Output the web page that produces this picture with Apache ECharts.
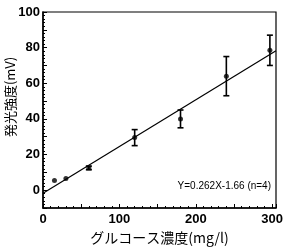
<!DOCTYPE html>
<html><head><meta charset="utf-8">
<script src="https://cdn.jsdelivr.net/npm/echarts@6/dist/echarts.min.js"></script>
<style>html,body{margin:0;padding:0;background:#fff}#c{width:285px;height:247px}</style>
</head><body><div id="c"></div>
<script>
// data
const xValues = [15, 30, 60, 120, 180, 240, 297];
const yValues = [5.5, 6.5, 12.5, 29.5, 40, 64, 78.5];
const yErrors = [0, 0, 1, 4.5, 5, 11, 8.5];
const markerShapes = ['circle', 'circle', 'rect', 'circle', 'circle', 'circle', 'circle'];
const fitSlope = 0.262;
const fitIntercept = -1.66;
const fitRange = [0, 305];
const xTickLabels = [0, 100, 200, 300];
const yTickLabels = [0, 20, 40, 60, 80, 100];
const xName = 'グルコース濃度(mg/l)';
const yName = '発光強度(mV)';
const fitLabel = 'Y=0.262X-1.66 (n=4)';

const pts = xValues.map((x, i) => ({value: [x, yValues[i]], symbol: markerShapes[i], symbolSize: 5}));
const errData = xValues.map((x, i) => [x, yValues[i] - yErrors[i], yValues[i] + yErrors[i]]).filter((d, i) => yErrors[i] > 0);
const fitData = fitRange.map(x => [x, fitSlope * x + fitIntercept]);

const lblFont = {color: '#000', fontFamily: 'Liberation Sans, Arial, sans-serif', fontSize: 13, fontWeight: 'bold'};
const chart = echarts.init(document.getElementById('c'), null, {renderer: 'canvas'});
chart.setOption({
  animation: false,
  backgroundColor: '#fff',
  grid: {left: 43, right: 9, top: 12, bottom: 39, containLabel: false, outerBoundsMode: 'none',
         show: true, borderColor: '#000', borderWidth: 1.2},
  xAxis: {
    type: 'value', min: 0, max: 305, interval: 50,
    name: xName, nameLocation: 'middle', nameGap: 23,
    nameTextStyle: {color: '#000', fontFamily: 'Noto Sans CJK JP', fontSize: 14},
    axisLine: {onZero: false, lineStyle: {color: '#000', width: 1.5}},
    axisTick: {inside: true, length: 4, lineStyle: {color: '#000'}},
    minorTick: {show: true, splitNumber: 5, length: 2, lineStyle: {color: '#000'}},
    splitLine: {show: false},
    axisLabel: Object.assign({margin: 5, formatter: v => xTickLabels.includes(v) ? String(v) : ''}, lblFont)
  },
  yAxis: {
    type: 'value', min: -10, max: 100, interval: 10,
    axisLine: {onZero: false, lineStyle: {color: '#000', width: 1.5}},
    axisTick: {inside: true, length: 4, lineStyle: {color: '#000'}},
    minorTick: {show: true, splitNumber: 5, length: 2, lineStyle: {color: '#000'}},
    splitLine: {show: false},
    axisLabel: Object.assign({margin: 3, formatter: v => yTickLabels.includes(v) ? String(v) : ''}, lblFont)
  },
  graphic: [{
    type: 'text', right: 14, top: 181,
    style: {text: fitLabel, fill: '#000', font: '10px "Liberation Sans", Arial, sans-serif'}
  }, {
    type: 'text', x: 10, y: 97, rotation: Math.PI / 2,
    style: {text: yName, fill: '#000', font: '13px "Noto Sans CJK JP"', align: 'center', verticalAlign: 'middle'}
  }],
  series: [
    {type: 'line', data: fitData, showSymbol: false, lineStyle: {color: '#000', width: 1.2}, z: 2},
    {type: 'custom', data: errData, z: 3,
      renderItem: (params, api) => {
        const top = api.coord([api.value(0), api.value(2)]);
        const bot = api.coord([api.value(0), api.value(1)]);
        const w = 3;
        const st = {stroke: '#000', lineWidth: 1.6};
        return {type: 'group', children: [
          {type: 'line', shape: {x1: top[0], y1: top[1], x2: bot[0], y2: bot[1]}, style: st},
          {type: 'line', shape: {x1: top[0] - w, y1: top[1], x2: top[0] + w, y2: top[1]}, style: st},
          {type: 'line', shape: {x1: bot[0] - w, y1: bot[1], x2: bot[0] + w, y2: bot[1]}, style: st}
        ]};
      }},
    {type: 'scatter', data: pts, itemStyle: {color: '#000'}, z: 4}
  ]
});
</script></body></html>
